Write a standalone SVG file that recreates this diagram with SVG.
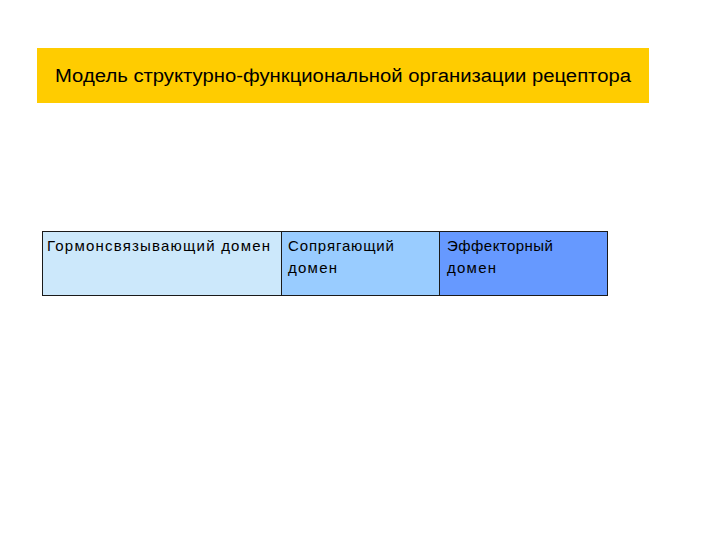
<svg xmlns="http://www.w3.org/2000/svg" width="720" height="540" viewBox="0 0 720 540">
<style>
.t{font-family:"Liberation Sans","DejaVu Sans",sans-serif;fill:#000}
.b{font-size:15px}
.box{stroke:#1a1a1a;stroke-width:1}
</style>
<rect width="720" height="540" fill="#ffffff"/>
<g id="title">
<rect x="37" y="48" width="612" height="55" fill="#ffcc00"/>
<text class="t" x="343" y="82" font-size="18" text-anchor="middle" textLength="576" lengthAdjust="spacingAndGlyphs">Модель структурно-функциональной организации рецептора</text>
</g>
<g id="hormone-binding">
<rect class="box" x="42.5" y="231.5" width="239" height="64" fill="#cce8fb"/>
<text class="t b" x="47" y="251" textLength="223">Гормонсвязывающий домен</text>
</g>
<g id="coupling">
<rect class="box" x="281.5" y="231.5" width="158" height="64" fill="#99ccff"/>
<text class="t b" x="288" y="251" textLength="106">Сопрягающий</text>
<text class="t b" x="288" y="273" textLength="49">домен</text>
</g>
<g id="effector">
<rect class="box" x="439.5" y="231.5" width="168" height="64" fill="#6699ff"/>
<text class="t b" x="447" y="251" textLength="106">Эффекторный</text>
<text class="t b" x="447" y="273" textLength="49">домен</text>
</g>
<g id="connectors"/>
</svg>
